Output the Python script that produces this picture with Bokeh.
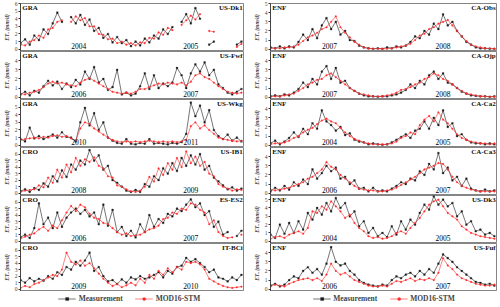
import math
from bokeh.plotting import figure
from bokeh.models import Range1d, FixedTicker, Label, Legend, LegendItem
from bokeh.layouts import column, row
from bokeh.embed import file_html
from bokeh.resources import INLINE
from bokeh.core.properties import value

nan = float("nan")

# sample days (every 15 days over two years)
days = list(range(0, 721, 15))

# ---------------- left column ----------------
dk1_meas = [0.8,1.3,0.6,1.8,1.2,2.6,2.0,3.4,4.8,3.6,nan,4.2,3.4,4.5,3.2,3.9,2.4,2.8,1.5,2.0,0.9,1.6,0.8,1.2,0.4,1.0,0.5,1.4,0.9,1.8,1.4,2.6,2.0,2.9,nan,3.6,4.6,3.4,5.4,4.0,nan,0.6,1.0,nan,nan,nan,nan,0.6,1.0]
dk1_stm  = [0.6,0.5,1.0,1.2,1.8,1.5,2.6,2.8,3.6,3.8,nan,3.6,4.3,3.8,4.1,3.0,3.0,2.0,1.9,1.3,1.4,0.8,1.0,0.6,0.8,0.5,0.9,0.8,1.5,1.4,2.2,1.9,2.8,2.5,nan,3.2,3.8,4.4,3.9,4.6,nan,2.4,2.3,nan,nan,nan,nan,0.3,0.7]

fwf_meas = [0.3,0.6,0.2,0.7,0.5,1.2,1.8,1.3,1.7,0.9,1.5,1.1,1.9,1.4,2.8,2.0,3.3,1.6,2.0,0.8,1.1,3.0,0.3,0.5,0.2,0.4,1.2,2.6,0.9,2.4,1.0,1.5,1.2,1.6,3.2,2.4,1.0,2.6,3.6,2.8,3.8,2.4,3.0,1.4,1.0,0.5,0.3,0.6,0.9]
fwf_stm  = [0.4,0.3,0.5,0.6,0.8,1.1,1.5,1.7,1.5,1.6,1.4,1.3,1.2,1.6,1.9,2.1,1.8,1.5,1.2,0.9,0.6,0.5,0.4,0.5,0.4,0.6,0.9,0.9,1.1,1.3,1.5,1.4,1.6,1.5,1.4,1.6,1.3,1.7,2.4,2.6,2.2,2.0,1.6,1.2,0.9,0.6,0.5,0.4,0.5]

wkg_meas = [0.8,0.5,2.3,0.9,1.2,0.8,1.1,1.4,1.0,1.7,1.1,1.0,0.5,3.0,4.9,2.6,4.2,2.0,3.0,1.0,0.6,0.3,0.2,0.8,0.2,0.1,0.3,0.2,0.8,0.2,0.3,0.2,0.1,0.3,0.2,0.4,1.5,5.6,3.8,5.2,3.0,4.6,2.0,1.2,0.8,1.4,0.6,1.0,0.5]
wkg_stm  = [0.7,0.8,0.9,1.0,0.9,1.1,1.0,1.2,1.3,1.1,1.2,0.9,0.6,2.2,3.0,2.8,2.2,1.8,1.4,1.0,0.7,0.5,0.4,0.5,0.4,0.5,0.4,0.5,0.6,0.5,0.4,0.5,0.4,0.5,0.4,0.5,0.7,2.5,3.0,2.2,2.6,2.0,1.5,1.0,0.8,0.7,0.6,0.5,0.6]

ib1_meas = [0.3,0.6,0.2,0.8,0.5,1.5,1.0,2.6,1.8,3.5,2.5,4.4,3.6,5.0,4.4,6.6,5.0,5.8,3.6,4.2,2.0,1.6,1.0,0.4,0.2,0.5,0.2,1.4,1.0,2.6,2.0,3.8,3.0,4.6,3.4,5.4,4.2,5.8,4.4,6.0,3.6,4.2,2.4,1.8,1.2,0.6,0.9,0.4,0.7]
ib1_stm  = [0.2,0.4,0.5,0.6,1.2,0.9,2.4,1.6,3.6,2.4,4.4,3.2,5.4,4.2,5.2,4.8,5.5,4.2,3.8,2.6,2.4,1.2,1.0,0.6,0.3,0.2,0.4,1.0,2.5,1.8,3.8,2.8,4.6,3.6,5.4,4.0,6.4,4.6,5.6,4.2,4.8,3.0,2.6,1.4,1.0,0.7,0.4,0.6,0.5]

es2_meas = [0.6,1.0,0.5,2.0,5.8,2.6,3.6,2.0,4.4,2.2,3.6,4.4,5.0,4.2,4.8,3.8,4.4,2.6,5.6,2.4,4.8,1.4,2.2,0.8,1.6,0.6,2.6,1.4,4.0,2.2,3.4,2.8,4.2,3.8,5.0,4.6,5.6,6.4,5.2,5.8,4.0,4.6,2.2,3.0,1.0,1.4,nan,0.8,1.6]
es2_stm  = [0.4,0.7,1.0,1.2,1.8,2.2,1.6,2.4,2.0,3.2,4.4,5.4,4.6,5.6,5.2,4.2,3.6,3.4,2.8,2.6,2.0,1.4,1.0,1.2,0.8,0.9,1.0,1.4,1.8,2.0,2.4,3.4,3.6,4.4,4.2,5.0,4.8,5.8,5.6,4.8,4.4,2.6,3.2,1.4,0.8,0.5,0.6,nan,1.0]

bci_meas = [1.4,1.0,1.7,1.2,1.6,1.3,2.0,1.6,2.6,2.2,3.4,3.0,4.2,3.6,4.4,5.6,2.8,3.4,2.0,1.2,1.4,0.8,1.5,1.0,1.8,1.5,2.0,1.6,1.8,2.2,2.6,1.8,2.8,2.4,3.4,3.6,4.8,4.2,4.6,4.0,3.4,2.6,3.0,1.8,1.6,1.2,1.8,1.4,2.2]
bci_stm  = [0.2,0.5,0.3,0.8,1.0,1.4,1.8,2.2,2.0,3.0,5.6,4.2,3.8,4.4,3.6,4.0,3.2,2.4,1.6,1.0,0.5,0.8,0.3,0.6,1.0,0.6,1.6,1.0,2.2,1.6,2.8,2.2,3.2,2.6,3.4,3.0,4.2,4.0,4.2,3.8,3.0,1.6,1.2,0.8,0.5,0.3,0.2,0.3,0.4]

# ---------------- right column ----------------
obs_meas = [0.2,0.1,0.3,0.1,0.3,0.2,0.8,1.6,1.0,2.2,1.2,2.6,3.4,2.2,3.0,1.6,2.0,1.0,0.9,0.4,0.2,0.1,0.05,0.1,0.05,0.2,0.1,0.3,0.2,0.4,0.8,1.4,1.2,2.0,1.6,2.8,2.2,3.8,2.6,3.0,2.0,1.4,0.8,0.5,0.2,0.1,0.1,0.05,0.05]
obs_stm  = [0.1,0.1,0.1,0.2,0.2,0.3,0.5,0.9,1.3,1.5,1.8,2.2,2.4,3.0,3.6,2.4,1.8,1.3,0.8,0.5,0.2,0.1,0.05,0.05,0.05,0.05,0.1,0.2,0.3,0.4,0.6,1.0,1.5,1.7,2.2,2.4,2.8,3.0,3.2,2.6,2.0,1.4,0.9,0.5,0.3,0.2,0.1,0.1,0.05]

ojp_meas = [0.1,0.2,0.1,0.3,0.2,0.5,0.9,1.6,1.1,2.0,1.4,2.8,3.4,2.0,3.2,1.6,1.8,1.0,0.7,0.4,0.2,0.1,0.1,0.05,0.1,0.1,0.2,0.3,0.5,0.8,1.4,1.0,1.8,1.4,2.4,2.8,2.0,2.6,1.6,1.4,1.0,0.6,0.4,0.2,0.15,0.1,0.1,0.05,0.1]
ojp_stm  = [0.05,0.1,0.1,0.2,0.3,0.4,0.7,1.0,1.4,1.6,1.9,2.0,2.4,2.6,2.2,1.8,1.4,1.0,0.7,0.4,0.3,0.2,0.1,0.1,0.1,0.2,0.3,0.5,0.8,0.9,1.1,1.4,1.6,2.0,2.2,2.6,2.4,2.0,1.8,1.4,1.0,0.7,0.4,0.3,0.2,0.1,0.1,0.05,0.05]

ca2_meas = [0.2,0.5,0.1,0.4,0.8,1.4,0.9,1.8,1.2,2.4,1.8,3.8,2.6,2.2,1.6,2.0,1.1,1.3,0.6,0.4,0.3,0.1,0.2,0.1,0.05,0.1,0.3,0.6,0.9,1.2,0.8,1.6,1.8,2.6,1.8,3.0,2.2,3.8,2.0,2.4,1.0,1.2,0.6,0.3,0.2,0.2,0.1,0.2,0.1]
ca2_stm  = [0.1,0.2,0.2,0.3,0.5,0.8,1.0,1.4,1.7,1.9,2.3,2.7,2.9,2.6,2.4,1.9,1.4,1.0,0.7,0.5,0.3,0.2,0.1,0.1,0.1,0.1,0.2,0.4,0.8,1.0,1.4,1.2,2.2,2.8,3.2,2.6,3.6,2.8,2.4,1.8,1.2,0.8,0.6,0.4,0.3,0.2,0.2,0.1,0.2]

ca3_meas = [0.2,0.6,0.3,0.8,0.4,1.2,0.8,1.5,1.0,2.6,1.6,2.2,3.0,2.4,2.8,1.6,1.8,1.0,1.4,0.5,0.6,0.2,0.6,0.2,0.3,0.2,0.5,0.8,1.2,1.0,1.6,1.4,2.4,2.0,3.2,2.6,4.4,2.2,2.8,1.4,1.8,0.8,1.6,0.5,0.3,0.2,0.4,0.2,0.3]
ca3_stm  = [0.4,0.3,0.4,0.5,0.6,0.8,1.0,1.2,1.6,1.8,2.2,2.6,3.4,2.9,2.6,2.0,1.6,1.2,0.8,0.5,0.4,0.3,0.3,0.2,0.2,0.3,0.4,0.6,0.9,1.2,1.5,1.8,2.2,2.6,2.8,3.0,3.3,3.2,2.6,1.8,1.2,0.8,0.6,0.4,0.3,0.2,0.2,0.2,0.2]

dk3_meas = [0.8,0.4,2.0,0.9,2.2,1.0,2.4,1.4,3.4,2.6,4.0,3.2,4.6,3.6,5.2,4.0,4.6,3.0,3.6,1.8,2.4,1.0,1.6,0.6,1.0,0.5,1.8,0.8,2.4,1.4,2.6,2.0,3.4,4.4,3.8,5.4,4.4,5.0,4.2,4.6,3.0,3.6,2.0,2.4,1.2,1.4,0.8,1.0,0.6]
dk3_stm  = [0.3,0.5,0.6,0.4,0.8,1.0,1.2,0.9,1.6,3.6,3.4,4.2,3.8,4.8,4.2,3.6,2.8,3.2,2.2,1.6,1.2,0.6,0.4,0.5,0.3,0.4,0.6,1.0,1.2,0.9,1.6,2.2,2.8,3.6,4.4,4.8,5.0,4.2,3.4,3.0,2.6,1.8,1.4,1.0,0.8,0.6,0.5,0.4,0.3]

fuf_meas = [0.4,0.6,0.3,0.5,1.0,1.4,1.2,2.0,2.4,1.8,2.2,1.6,2.8,4.6,3.0,2.6,2.8,2.0,1.6,1.0,0.7,0.5,0.4,0.3,0.5,0.4,1.0,1.4,1.2,1.6,1.8,1.4,2.0,1.6,2.2,1.8,2.8,3.8,3.4,3.0,2.4,2.0,1.6,1.2,0.8,0.7,0.5,0.6,0.4]
fuf_stm  = [0.3,0.5,0.4,0.3,0.6,0.8,1.0,1.1,1.2,1.0,1.2,0.9,1.6,2.8,2.0,1.6,1.8,1.4,1.0,0.8,0.6,0.4,0.3,0.3,0.4,0.3,0.6,0.9,0.8,1.0,1.2,0.9,1.1,1.0,1.2,1.0,1.8,3.4,2.6,2.2,1.6,1.2,1.0,0.8,0.6,0.5,0.4,0.4,0.5]

# panel descriptors
left_sites  = ["US-Dk1", "US-Fwf", "US-Wkg", "US-IB1", "ES-ES2", "IT-BCi"]
left_types  = ["GRA", "GRA", "GRA", "CRO", "CRO", "CRO"]
left_years  = [2004, 2006, 2010, 2008, 2006, 2009]
left_ymax   = [6, 5, 6, 7, 7, 7]
left_ytop   = [6, 4, 5, 6, 6, 6]
left_meas   = [dk1_meas, fwf_meas, wkg_meas, ib1_meas, es2_meas, bci_meas]
left_stm    = [dk1_stm, fwf_stm, wkg_stm, ib1_stm, es2_stm, bci_stm]

right_sites = ["CA-Obs", "CA-Ojp", "CA-Ca2", "CA-Ca3", "US-Dk3", "US-Fuf"]
right_types = ["ENF"] * 6
right_years = [2007, 2007, 2004, 2006, 2004, 2006]
right_ymax  = [5, 5, 5, 5, 5.5, 5]
right_ytop  = [5, 4, 4, 4, 5, 4]
right_meas  = [obs_meas, ojp_meas, ca2_meas, ca3_meas, dk3_meas, fuf_meas]
right_stm   = [obs_stm, ojp_stm, ca2_stm, ca3_stm, dk3_stm, fuf_stm]

series_names = ["Measurement", "MOD16-STM"]

SERIF = "Liberation Serif"
BLACK = "#1a1a1a"
RED = "#ff2b2b"
FRAME_H = 48
LEGEND_H = 14


def draw_series(p, meas, stm, visible=True):
    lm = p.line(days, meas, line_color=BLACK, line_width=0.6, visible=visible)
    sm = p.scatter(days, meas, marker="square", size=1.7, fill_color=BLACK, line_color=BLACK,
                   line_width=0.3, visible=visible)
    ls = p.line(days, stm, line_color=RED, line_width=0.6, visible=visible)
    ss = p.scatter(days, stm, marker="circle", size=1.7, fill_color=RED, line_color=RED,
                   line_width=0.3, visible=visible)
    return lm, sm, ls, ss


def make_panel(site, ptype, year, meas, stm, ymax, ytop, width, left_border, top_border):
    h = FRAME_H + top_border
    p = figure(width=width, height=h, x_range=Range1d(0, 730),
               y_range=Range1d(-0.05 * ymax, ymax),
               x_axis_location=None, output_backend="svg", toolbar_location=None,
               min_border_left=left_border, min_border_right=0, min_border_top=top_border,
               min_border_bottom=0)
    p.grid.visible = False
    p.outline_line_color = "#666666"
    p.outline_line_width = 0.8
    ax = p.yaxis[0]
    ax.ticker = FixedTicker(ticks=list(range(0, ytop + 1)))
    ax.axis_label = "ETₐ (mm/d)"
    ax.axis_label_text_font = SERIF
    ax.axis_label_text_font_style = "bold italic"
    ax.axis_label_text_font_size = "5.5px"
    ax.axis_label_standoff = 2
    ax.major_label_text_font = SERIF
    ax.major_label_text_font_size = "5.5px"
    ax.major_label_standoff = 1
    ax.major_tick_out = 2
    ax.major_tick_in = 0
    ax.minor_tick_out = 0
    ax.minor_tick_in = 0
    ax.axis_line_color = "#333333"
    ax.axis_line_width = 0.8
    ax.major_tick_line_color = "#333333"

    draw_series(p, meas, stm)

    p.add_layout(Label(x=6, y=ymax, y_offset=-8, text=ptype, text_font=SERIF,
                       text_font_style="bold", text_font_size="7px", text_color="#111111"))
    p.add_layout(Label(x=724, y=ymax, y_offset=-8, text=site, text_font=SERIF, text_align="right",
                       text_font_style="bold", text_font_size="7px", text_color="#111111"))
    for xd, yr in ((190, year), (555, year + 1)):
        p.add_layout(Label(x=xd, y=0, y_offset=0, text=str(yr), text_font=SERIF, text_align="center",
                           text_font_size="7.5px", text_color="#000000"))
    return p


def make_legend(meas, stm, width, left_border):
    p = figure(width=width, height=LEGEND_H, x_range=Range1d(0, 730), y_range=Range1d(0, 7),
               x_axis_location=None, y_axis_location=None, output_backend="svg",
               toolbar_location=None, min_border_left=left_border, min_border_right=0,
               min_border_top=0, min_border_bottom=0)
    p.grid.visible = False
    p.outline_line_color = None
    lm, sm, ls, ss = draw_series(p, meas, stm, visible=False)
    sm.glyph.size = 3
    ss.glyph.size = 3
    leg = Legend(items=[LegendItem(label=value(series_names[0]), renderers=[lm, sm]),
                        LegendItem(label=value(series_names[1]), renderers=[ls, ss])],
                 orientation="horizontal", location="center", border_line_alpha=0,
                 background_fill_alpha=0, inactive_fill_alpha=0,
                 label_text_font=SERIF, label_text_font_style="bold",
                 label_text_font_size="7.5px", glyph_width=18, glyph_height=8,
                 label_standoff=3, spacing=12, padding=1, margin=0)
    p.add_layout(leg, "center")
    return p


rows = []
for i in range(6):
    top = 3 if i == 0 else 0
    lp = make_panel(left_sites[i], left_types[i], left_years[i], left_meas[i], left_stm[i],
                    left_ymax[i], left_ytop[i], 244, 14, top)
    rp = make_panel(right_sites[i], right_types[i], right_years[i], right_meas[i], right_stm[i],
                    right_ymax[i], right_ytop[i], 253, 26, top)
    rows.append(row(lp, rp))

rows.append(row(make_legend(left_meas[5], left_stm[5], 244, 14),
                make_legend(right_meas[5], right_stm[5], 253, 26)))

layout = column(*rows)
open("out.html", "w").write(file_html(layout, INLINE))
